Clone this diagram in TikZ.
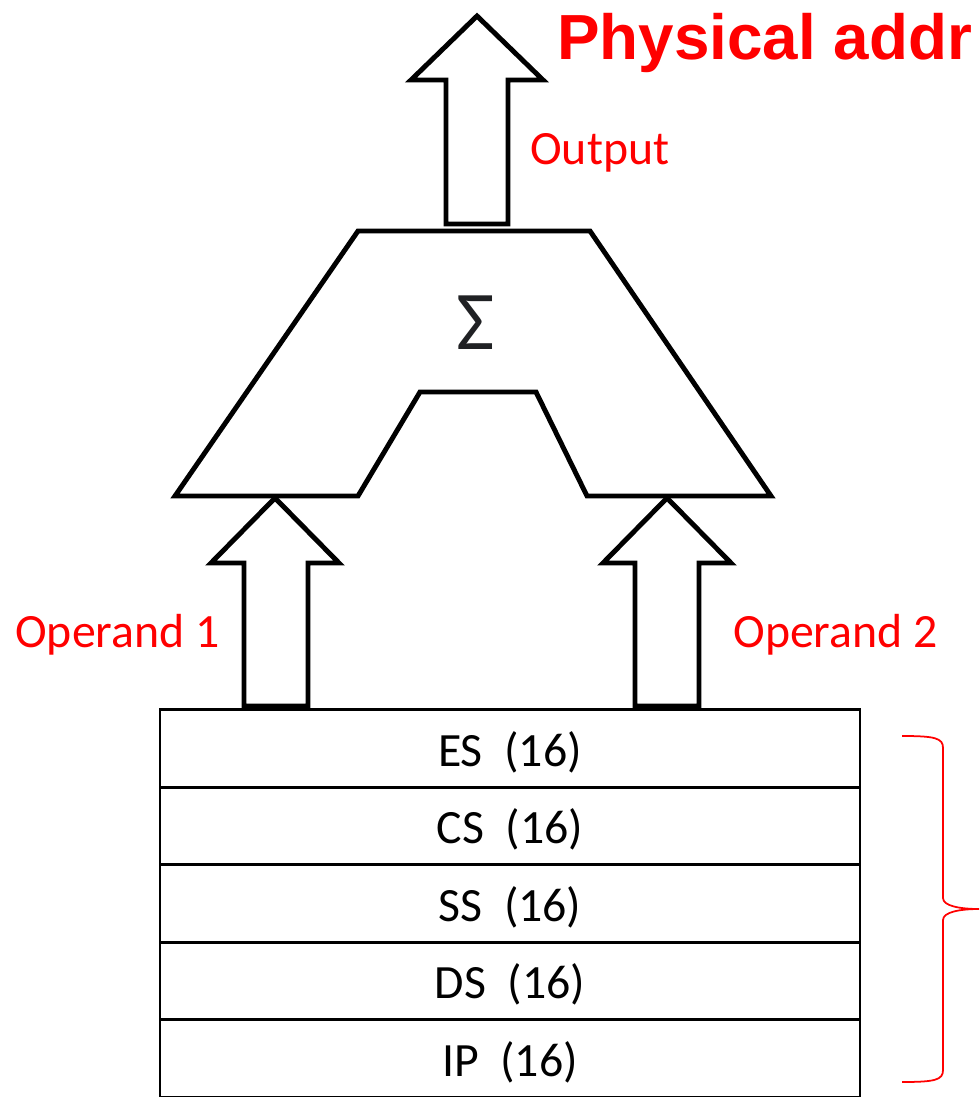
\documentclass[tikz,border=0pt]{standalone}
\usepackage{fontspec}
\setmainfont{Carlito}
\newfontfamily\headfont{Liberation Sans}
\definecolor{sigmagray}{RGB}{32,33,36}
\tikzset{
  blockline/.style={draw=black, line width=2.8pt, fill=white, line join=miter},
  regbox/.style={draw=black, line width=1.6pt, outer sep=0pt, minimum width=14cm, minimum height=1.55cm, inner sep=0pt, text height=20.4pt, text depth=0pt, font=\fontsize{27.2pt}{30pt}\selectfont},
  redlabel/.style={text=red, anchor=base west, inner sep=0pt, font=\fontsize{27.2pt}{30pt}\selectfont},
  bracestyle/.style={draw=red, line width=1pt}
}
\begin{document}
\begin{tikzpicture}[x=0.02cm,y=-0.02cm]
\useasboundingbox (0,0) rectangle (979,1097);
% register stack
\node[regbox] (es) at (510,748.5) {ES\ \ (16)};
\node[regbox, anchor=north] (cs) at (es.south) {CS\ \ (16)};
\node[regbox, anchor=north] (ss) at (cs.south) {SS\ \ (16)};
\node[regbox, anchor=north] (ds) at (ss.south) {DS\ \ (16)};
\node[regbox, anchor=north] (ip) at (ds.south) {IP\ \ (16)};
% adder shape
\coordinate (sum) at (476,350);
\draw[blockline] (358,231) -- (590,231) -- (771,496) -- (587,496) -- (536,392) -- (420,392) -- (358,496) -- (175,496) -- cycle;
\node[text=sigmagray, inner sep=0pt, anchor=base, font=\fontsize{47.6pt}{50pt}\selectfont] (sigma) at (sum) {Σ};
% output arrow
\draw[blockline] (477,16) -- (543,80) -- (508,80) -- (508,224) -- (446,224) -- (446,80) -- (411,80) -- cycle;
% operand arrows
\draw[blockline] (275,498) -- (339,563) -- (308,563) -- (308,706) -- (244,706) -- (244,563) -- (211,563) -- cycle;
\draw[blockline] (667,498) -- (731,563) -- (699,563) -- (699,706) -- (635,706) -- (635,563) -- (603,563) -- cycle;
% labels
\node[redlabel] (op1) at (15,647) {Operand 1};
\node[redlabel] (op2) at (733,647) {Operand 2};
\node[redlabel] (out) at (530,165) {Output};
\node[text=red, anchor=base west, inner sep=0pt, font=\headfont\bfseries\fontsize{36.3pt}{40pt}\selectfont] (phys) at (557,60) {Physical addr};
% brace
\draw[bracestyle] (902,736) .. controls (935,736) and (943,738) .. (943,748) -- (943,898) .. controls (943,906) and (960,909) .. (979,909) .. controls (960,909) and (943,912) .. (943,920) -- (943,1070) .. controls (943,1080) and (935,1082) .. (902,1082);
\end{tikzpicture}
\end{document}
